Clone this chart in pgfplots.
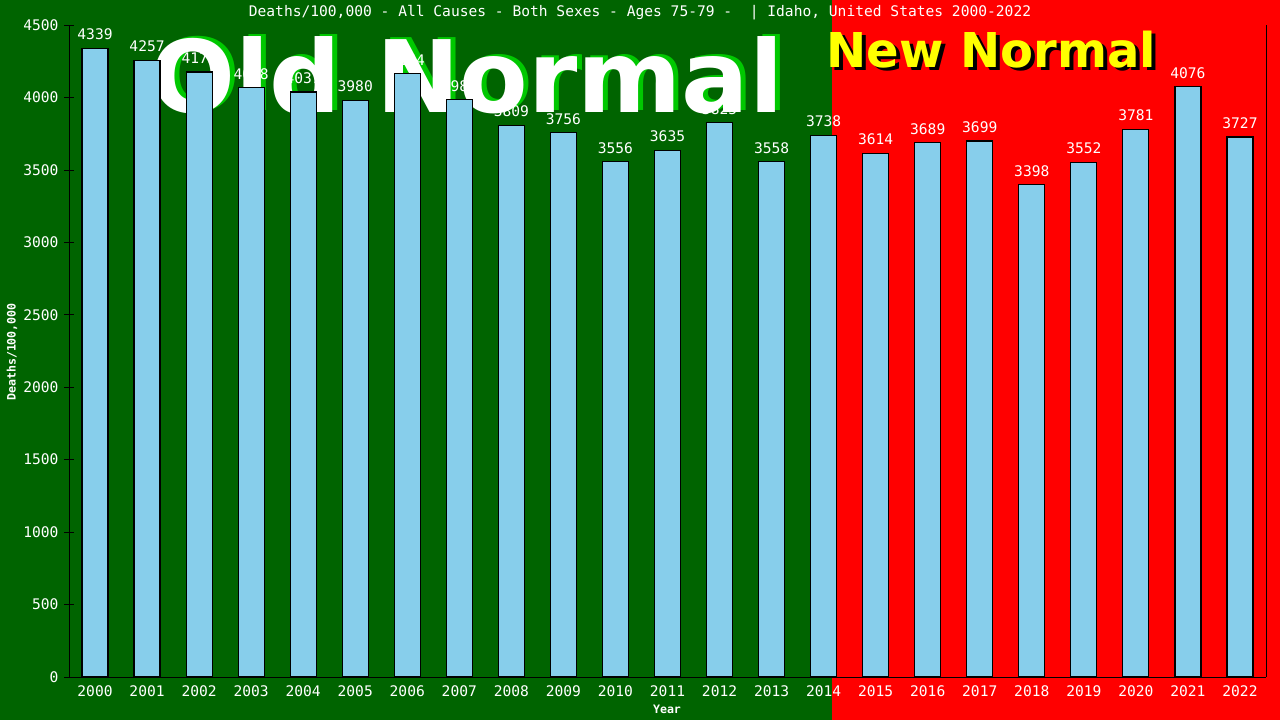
\documentclass[border=0pt]{standalone}
\usepackage{pgfplots}
\pgfplotsset{compat=1.18}
\usepackage{pgfplotstable}
\usepackage{fontspec}
\setmainfont{DejaVu Sans}
\setmonofont{DejaVu Sans Mono}

\definecolor{bggreen}{RGB}{0,100,0}
\definecolor{bgred}{RGB}{255,0,0}
\definecolor{barblue}{RGB}{135,206,235}
\definecolor{shadowgreen}{RGB}{0,200,0}
\definecolor{newyellow}{RGB}{255,255,0}

% deaths per 100,000, ages 75-79, Idaho
\pgfplotstableread{
year rate
2000 4339
2001 4257
2002 4175
2003 4068
2004 4037
2005 3980
2006 4164
2007 3985
2008 3809
2009 3756
2010 3556
2011 3635
2012 3825
2013 3558
2014 3738
2015 3614
2016 3689
2017 3699
2018 3398
2019 3552
2020 3781
2021 4076
2022 3727
}\deaths

\begin{document}
\begin{tikzpicture}
\path[use as bounding box] (0pt,0pt) rectangle (1280pt,720pt);
\fill[bggreen] (0pt,0pt) rectangle (832pt,720pt);
\fill[bgred] (832pt,0pt) rectangle (1280pt,720pt);
\node[white, font=\ttfamily\fontsize{14.6}{16}\selectfont] at (640pt,707pt)
  {Deaths/100,000 - All Causes - Both Sexes - Ages 75-79 -\ \ | Idaho, United States 2000-2022};

\begin{axis}[
  at={(69pt,43pt)}, anchor=south west,
  scale only axis, width=1197pt, height=652pt,
  xmin=1999.5, xmax=2022.5, ymin=0, ymax=4500,
  clip=false,
  ybar, bar width=26pt,
  axis x line*=bottom, axis y line*=left,
  axis line style={black, semithick, -},
  xtick=data, x tick style={draw=none},
  ytick={0,500,...,4500},
  y tick style={black, semithick},
  major tick length=10pt, tick align=center,
  /pgf/number format/1000 sep={},
  /pgf/number format/assume math mode=true,
  tick label style={white, font=\ttfamily\fontsize{14.6}{16}\selectfont},
  yticklabel style={xshift=-2pt},
]

% value labels first, so the big captions sit over them
\addplot[draw=none, fill=none, bar shift=0pt,
  nodes near coords,
  every node near coord/.append style={white, inner sep=0pt, anchor=south, yshift=8pt,
    font=\ttfamily\fontsize{14.6}{16}\selectfont}]
  table[x=year, y=rate] {\deaths};

\node[anchor=base west, inner sep=0pt, text=shadowgreen, shift={(5pt,2pt)},
  font=\bfseries\fontsize{100}{100}\selectfont] at (axis cs:2001.06,3899) {Old Normal};
\node[anchor=base west, inner sep=0pt, text=white,
  font=\bfseries\fontsize{100}{100}\selectfont] at (axis cs:2001.06,3899) {Old Normal};

\node[anchor=base west, inner sep=0pt, text=black, shift={(4pt,-3pt)},
  font=\bfseries\fontsize{48}{48}\selectfont] at (axis cs:2014.05,4210) {New Normal};
\node[anchor=base west, inner sep=0pt, text=newyellow,
  font=\bfseries\fontsize{48}{48}\selectfont] at (axis cs:2014.05,4210) {New Normal};

\addplot[fill=barblue, draw=black, line width=1.2pt, bar shift=0pt] table[x=year, y=rate] {\deaths};

\draw[black, semithick] (axis cs:2022.5,0) -- (axis cs:2022.5,4500);
\end{axis}

\node[white, rotate=90, font=\ttfamily\bfseries\fontsize{11.6}{13}\selectfont] at (12pt,368pt) {Deaths/100,000};
\node[white, font=\ttfamily\bfseries\fontsize{11.6}{13}\selectfont] at (667pt,11pt) {Year};
\end{tikzpicture}
\end{document}
